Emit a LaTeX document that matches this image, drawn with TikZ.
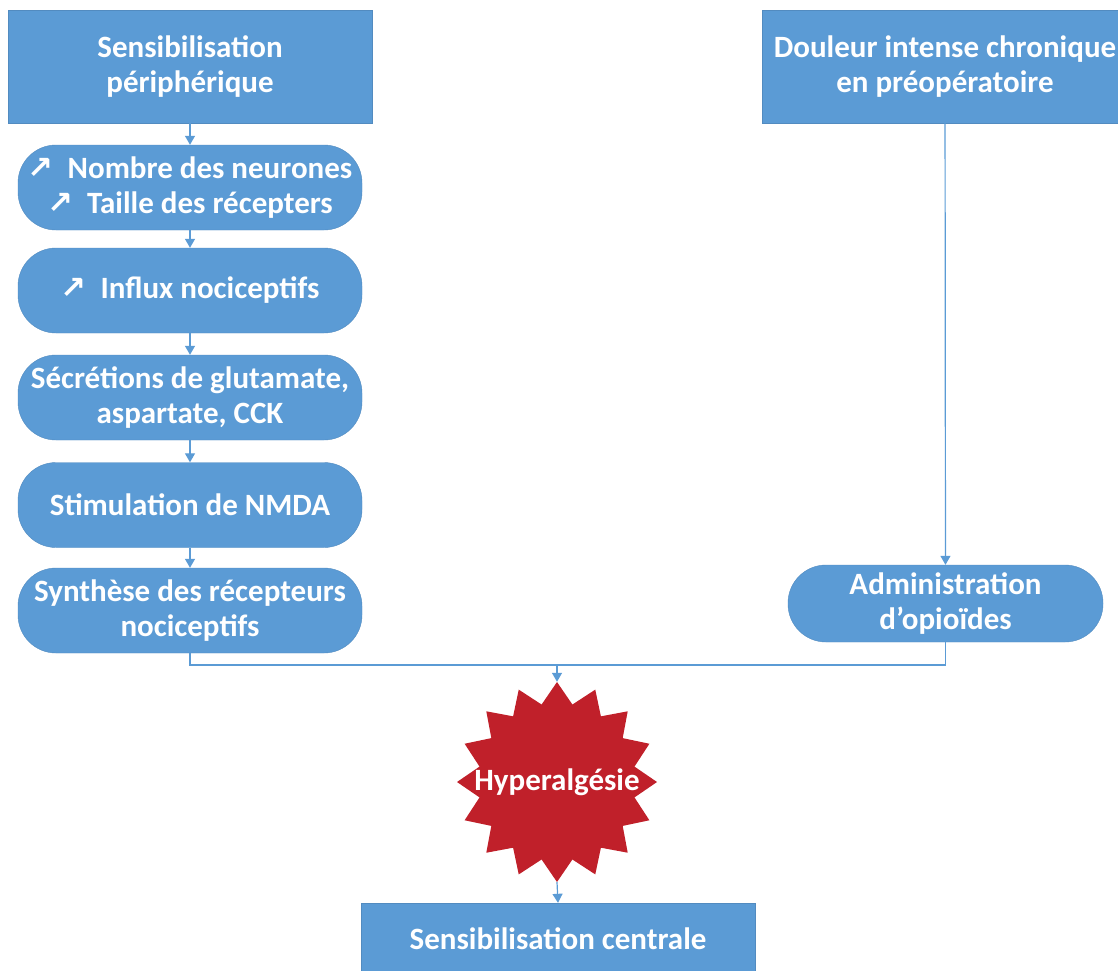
\documentclass[tikz,border=0pt]{standalone}
\usepackage{fontspec}
\setmainfont{Carlito}
\newfontfamily\symfont{DejaVu Sans}
\usetikzlibrary{shapes.geometric,arrows.meta}
\definecolor{boxblue}{HTML}{5B9BD5}
\definecolor{starred}{HTML}{C0202A}
\newcommand{\up}{{\symfont\bfseries\char"2197}}
\begin{document}
\begin{tikzpicture}[x=1pt,y=-1pt,
  txt/.style={text=white,font=\fontsize{31}{35}\selectfont\bfseries,align=center,inner sep=0pt},
  sqbox/.style={txt,rectangle,fill=boxblue,draw=boxblue!90!black,line width=0.4pt},
  pill/.style={txt,rectangle,rounded corners=38pt,fill=boxblue,draw=boxblue!90!black,line width=0.4pt},
  conn/.style={draw=boxblue,line width=1.2pt},
  arr/.style={conn,-{Triangle[width=10pt,length=9pt]}}]
\useasboundingbox (0,0) rectangle (1118,970);
\node[sqbox,minimum width=364pt,minimum height=113pt] (A) at (190,66.5) {Sensibilisation\\périphérique};
\node[pill,minimum width=344pt,minimum height=85pt] (B) at (190,187.5) {\up\ \ Nombre des neurones\\\up\ \ Taille des récepters};
\node[pill,minimum width=344pt,minimum height=85pt] (C) at (190,290.5) {\up\ \ Influx nociceptifs};
\node[pill,minimum width=344pt,minimum height=85pt] (D) at (190,397.5) {Sécrétions de glutamate,\\aspartate, CCK};
\node[pill,minimum width=344pt,minimum height=85pt] (E) at (190,505) {Stimulation de NMDA};
\node[pill,minimum width=344pt,minimum height=85pt] (F) at (190,610.5) {Synthèse des récepteurs\\nociceptifs};
\node[sqbox,minimum width=366pt,minimum height=113pt] (R) at (945,66.5) {Douleur intense chronique\\en préopératoire};
\node[pill,minimum width=315pt,minimum height=77pt] (G) at (945.5,603.5) {Administration\\d’opioïdes};
% 16-point star
\fill[starred,shift={(557,782)}] (90:100)
  \foreach \i in {1,...,31}{ -- ({90+\i*11.25}:{100-21*mod(\i,2)}) } -- cycle;
\node[txt,circle,minimum size=200pt] (S) at (557,782) {Hyperalgésie};
\node[sqbox,minimum width=394pt,minimum height=72pt] (H) at (558,939) {Sensibilisation centrale};
\coordinate (J) at (557,665);
\draw[arr] (A) -- (B);
\draw[arr] (B) -- (C);
\draw[arr] (C) -- (D);
\draw[arr] (D) -- (E);
\draw[arr] (E) -- (F);
\draw[arr] (R) -- (G);
\draw[conn] (F.south) |- (J);
\draw[conn] (G.south) |- (J);
\draw[arr] (J) -- (S.north);
\draw[arr] (S.south) -- (H.north);
\end{tikzpicture}
\end{document}
